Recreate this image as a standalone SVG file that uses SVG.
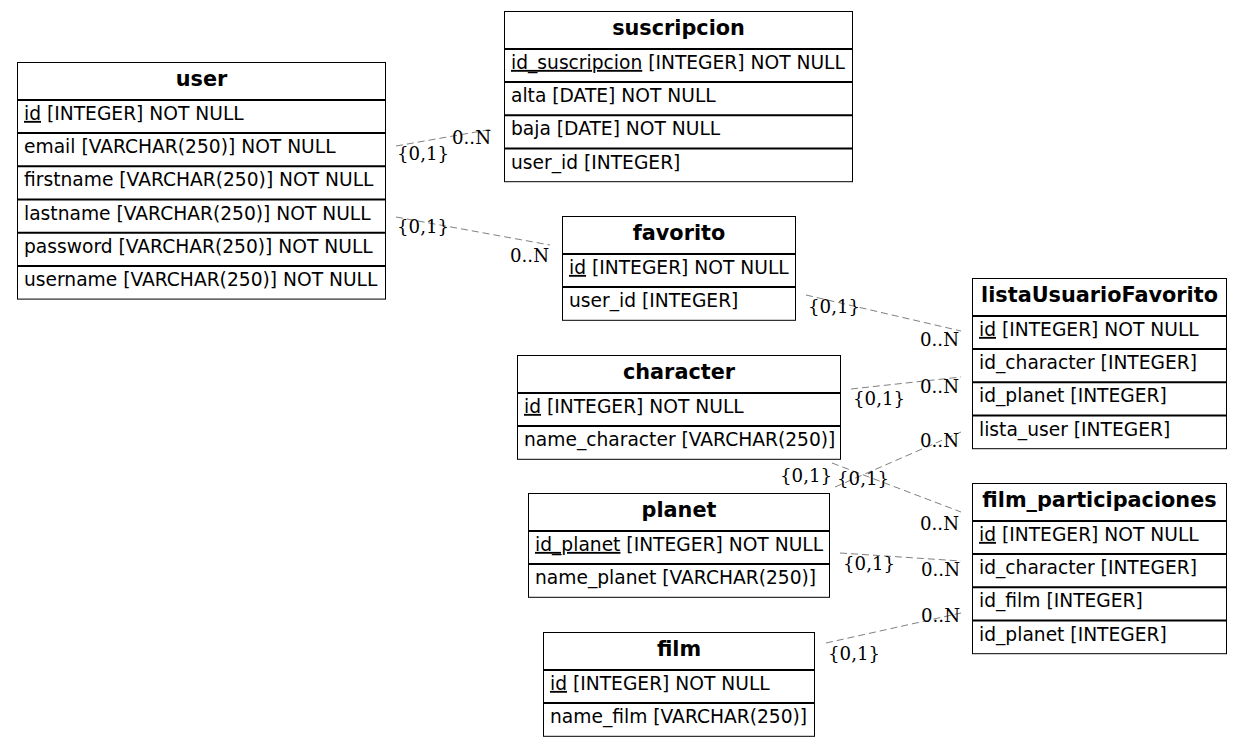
<svg xmlns="http://www.w3.org/2000/svg" width="1244" height="747" viewBox="0 0 1244 747">
<style>
.box{fill:#fff;stroke:#000;stroke-width:1}
.sep{stroke:#000;stroke-width:2}
.hdr{font-family:"DejaVu Sans",sans-serif;font-weight:bold;font-size:20.8px;text-anchor:middle;fill:#000}
.row{font-family:"DejaVu Sans",sans-serif;font-size:18.67px;fill:#000}
.pk{text-decoration:underline}
.edge{fill:none;stroke:#808080;stroke-width:1;stroke-dasharray:7,4}
.lbl{font-family:"DejaVu Serif",serif;font-size:18.2px;fill:#000}
</style>
<rect width="1244" height="747" fill="#fff"/>
<g id="connectors">
<line class="edge" x1="396" y1="146" x2="493" y2="129"/>
<line class="edge" x1="396" y1="217" x2="550" y2="245"/>
<line class="edge" x1="806" y1="295" x2="961" y2="331"/>
<line class="edge" x1="851" y1="389" x2="961" y2="377"/>
<line class="edge" x1="835" y1="487" x2="961" y2="432"/>
<line class="edge" x1="832" y1="463" x2="961" y2="512"/>
<line class="edge" x1="840" y1="553" x2="961" y2="561"/>
<line class="edge" x1="826" y1="643" x2="961" y2="613"/>
<text class="lbl" x="397" y="160">{0,1}</text>
<text class="lbl" x="452" y="144">0..N</text>
<text class="lbl" x="397" y="233">{0,1}</text>
<text class="lbl" x="510" y="262">0..N</text>
<text class="lbl" x="808" y="313">{0,1}</text>
<text class="lbl" x="920" y="346">0..N</text>
<text class="lbl" x="853" y="405">{0,1}</text>
<text class="lbl" x="920" y="393">0..N</text>
<text class="lbl" x="837" y="485">{0,1}</text>
<text class="lbl" x="920" y="447">0..N</text>
<text class="lbl" x="780" y="482">{0,1}</text>
<text class="lbl" x="920" y="530">0..N</text>
<text class="lbl" x="843" y="570">{0,1}</text>
<text class="lbl" x="921" y="576">0..N</text>
<text class="lbl" x="828" y="660">{0,1}</text>
<text class="lbl" x="921" y="622">0..N</text>
</g>
<g id="user">
<rect class="box" x="17.5" y="62.5" width="368" height="236.6"/>
<line class="sep" x1="17" y1="99.9" x2="386" y2="99.9"/>
<line class="sep" x1="17" y1="133.1" x2="386" y2="133.1"/>
<line class="sep" x1="17" y1="166.3" x2="386" y2="166.3"/>
<line class="sep" x1="17" y1="199.5" x2="386" y2="199.5"/>
<line class="sep" x1="17" y1="232.7" x2="386" y2="232.7"/>
<line class="sep" x1="17" y1="265.9" x2="386" y2="265.9"/>
<text class="hdr" x="201.5" y="85.5">user</text>
<text class="row" x="24" y="119.9"><tspan class="pk">id</tspan> [INTEGER] NOT NULL</text>
<text class="row" x="24" y="153.1">email [VARCHAR(250)] NOT NULL</text>
<text class="row" x="24" y="186.3">firstname [VARCHAR(250)] NOT NULL</text>
<text class="row" x="24" y="219.5">lastname [VARCHAR(250)] NOT NULL</text>
<text class="row" x="24" y="252.7">password [VARCHAR(250)] NOT NULL</text>
<text class="row" x="24" y="285.9">username [VARCHAR(250)] NOT NULL</text>
</g>
<g id="suscripcion">
<rect class="box" x="504.5" y="11.5" width="348" height="170.2"/>
<line class="sep" x1="504" y1="48.9" x2="853" y2="48.9"/>
<line class="sep" x1="504" y1="82.1" x2="853" y2="82.1"/>
<line class="sep" x1="504" y1="115.3" x2="853" y2="115.3"/>
<line class="sep" x1="504" y1="148.5" x2="853" y2="148.5"/>
<text class="hdr" x="678.5" y="34.5">suscripcion</text>
<text class="row" x="511" y="68.9"><tspan class="pk">id_suscripcion</tspan> [INTEGER] NOT NULL</text>
<text class="row" x="511" y="102.1">alta [DATE] NOT NULL</text>
<text class="row" x="511" y="135.3">baja [DATE] NOT NULL</text>
<text class="row" x="511" y="168.5">user_id [INTEGER]</text>
</g>
<g id="favorito">
<rect class="box" x="562.5" y="216.5" width="233" height="103.8"/>
<line class="sep" x1="562" y1="253.9" x2="796" y2="253.9"/>
<line class="sep" x1="562" y1="287.1" x2="796" y2="287.1"/>
<text class="hdr" x="679" y="239.5">favorito</text>
<text class="row" x="569" y="273.9"><tspan class="pk">id</tspan> [INTEGER] NOT NULL</text>
<text class="row" x="569" y="307.1">user_id [INTEGER]</text>
</g>
<g id="character">
<rect class="box" x="517.5" y="355.5" width="323" height="103.8"/>
<line class="sep" x1="517" y1="392.9" x2="841" y2="392.9"/>
<line class="sep" x1="517" y1="426.1" x2="841" y2="426.1"/>
<text class="hdr" x="679" y="378.5">character</text>
<text class="row" x="524" y="412.9"><tspan class="pk">id</tspan> [INTEGER] NOT NULL</text>
<text class="row" x="524" y="446.1">name_character [VARCHAR(250)]</text>
</g>
<g id="planet">
<rect class="box" x="528.5" y="493.5" width="301" height="103.8"/>
<line class="sep" x1="528" y1="530.9" x2="830" y2="530.9"/>
<line class="sep" x1="528" y1="564.1" x2="830" y2="564.1"/>
<text class="hdr" x="679" y="516.5">planet</text>
<text class="row" x="535" y="550.9"><tspan class="pk">id_planet</tspan> [INTEGER] NOT NULL</text>
<text class="row" x="535" y="584.1">name_planet [VARCHAR(250)]</text>
</g>
<g id="film">
<rect class="box" x="543.5" y="632.5" width="271" height="103.8"/>
<line class="sep" x1="543" y1="669.9" x2="815" y2="669.9"/>
<line class="sep" x1="543" y1="703.1" x2="815" y2="703.1"/>
<text class="hdr" x="679" y="655.5">film</text>
<text class="row" x="550" y="689.9"><tspan class="pk">id</tspan> [INTEGER] NOT NULL</text>
<text class="row" x="550" y="723.1">name_film [VARCHAR(250)]</text>
</g>
<g id="listaUsuarioFavorito">
<rect class="box" x="972.5" y="278.5" width="254" height="170.2"/>
<line class="sep" x1="972" y1="315.9" x2="1227" y2="315.9"/>
<line class="sep" x1="972" y1="349.1" x2="1227" y2="349.1"/>
<line class="sep" x1="972" y1="382.3" x2="1227" y2="382.3"/>
<line class="sep" x1="972" y1="415.5" x2="1227" y2="415.5"/>
<text class="hdr" x="1099.5" y="301.5">listaUsuarioFavorito</text>
<text class="row" x="979" y="335.9"><tspan class="pk">id</tspan> [INTEGER] NOT NULL</text>
<text class="row" x="979" y="369.1">id_character [INTEGER]</text>
<text class="row" x="979" y="402.3">id_planet [INTEGER]</text>
<text class="row" x="979" y="435.5">lista_user [INTEGER]</text>
</g>
<g id="film_participaciones">
<rect class="box" x="972.5" y="483.5" width="254" height="170.2"/>
<line class="sep" x1="972" y1="520.9" x2="1227" y2="520.9"/>
<line class="sep" x1="972" y1="554.1" x2="1227" y2="554.1"/>
<line class="sep" x1="972" y1="587.3" x2="1227" y2="587.3"/>
<line class="sep" x1="972" y1="620.5" x2="1227" y2="620.5"/>
<text class="hdr" x="1099.5" y="506.5">film_participaciones</text>
<text class="row" x="979" y="540.9"><tspan class="pk">id</tspan> [INTEGER] NOT NULL</text>
<text class="row" x="979" y="574.1">id_character [INTEGER]</text>
<text class="row" x="979" y="607.3">id_film [INTEGER]</text>
<text class="row" x="979" y="640.5">id_planet [INTEGER]</text>
</g>
</svg>
